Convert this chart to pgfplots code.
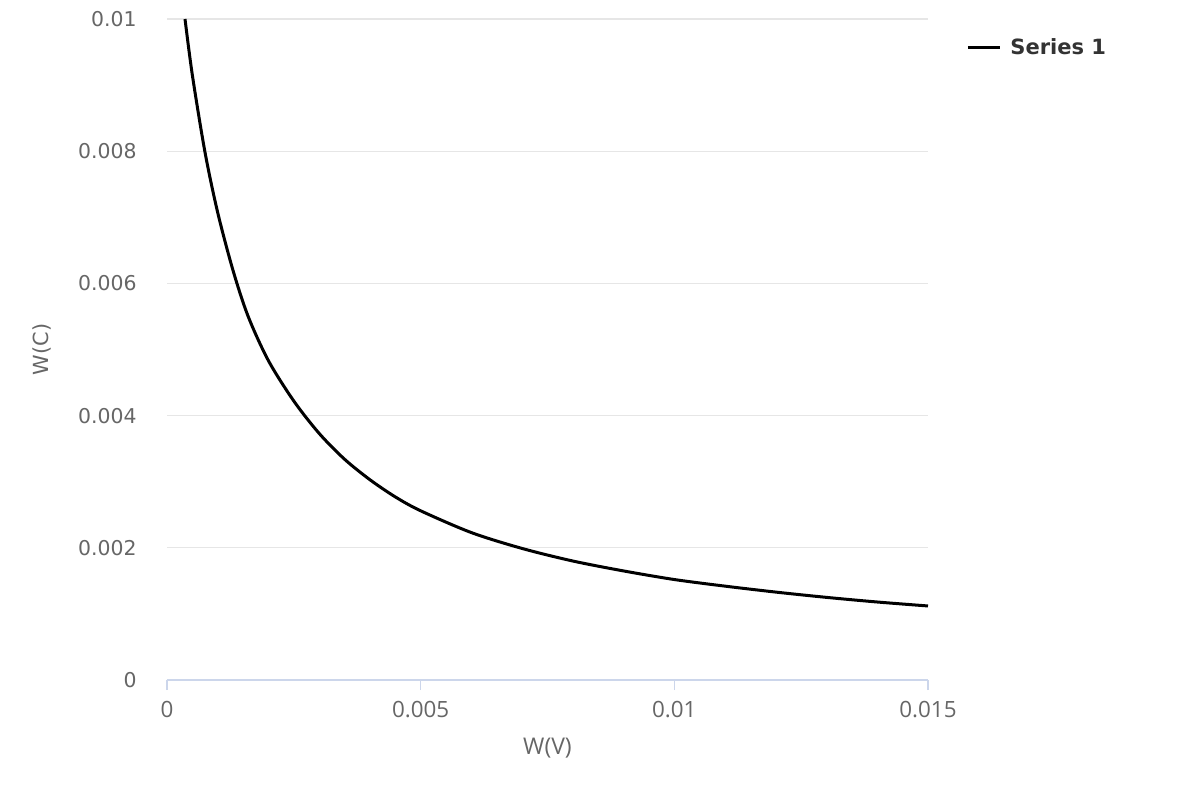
\documentclass[border=0pt]{standalone}
\usepackage{fontspec}
\setmainfont{DejaVu Sans}
\newfontfamily\xfont{Open Sans}
\usepackage{pgfplots}
\pgfplotsset{compat=1.18}
\definecolor{gridc}{HTML}{E6E6E6}
\definecolor{axisc}{HTML}{CCD6EB}
\definecolor{labc}{HTML}{666666}
\definecolor{legc}{HTML}{333333}
\begin{document}
\begin{tikzpicture}
\path[use as bounding box] (0,0) rectangle (600pt,400pt);
\begin{axis}[
  at={(83.5pt,60pt)}, anchor=south west,
  scale only axis, width=380.5pt, height=330.5pt,
  xmin=0, xmax=0.015, ymin=0, ymax=0.01,
  axis x line*=bottom, axis y line*=left,
  y axis line style={draw=none},
  x axis line style={axisc, line width=0.6pt, -},
  ytick style={draw=none},
  xtick style={axisc, line width=0.6pt},
  tick align=outside, major tick length=5pt,
  ymajorgrids, major grid style={gridc, line width=0.6pt},
  xtick={0,0.005,0.01,0.015},
  ytick={0,0.002,0.004,0.006,0.008,0.01},
  scaled ticks=false,
  /pgf/number format/fixed, /pgf/number format/precision=3,
  /pgf/number format/assume math mode=true,
  xticklabel style={font=\xfont\fontsize{11.2}{13}\selectfont, text=labc, inner sep=0pt, anchor=north, yshift=-5.25pt},
  yticklabel style={font=\fontsize{10.2}{12}\selectfont, text=labc, inner sep=0pt, anchor=east, xshift=-10pt},
  xlabel={W(V)},
  xlabel style={font=\xfont\fontsize{11.5}{13}\selectfont, text=labc, inner sep=0pt, at={(axis description cs:0.5,0)}, anchor=north, yshift=-29pt},
  ylabel={W(C)},
  ylabel style={font=\fontsize{10.4}{12}\selectfont, text=labc, inner sep=0pt, at={(axis description cs:-0.1643,0.5)}, anchor=center},
  legend image code/.code={\draw[#1, line width=1.5pt] (0pt,0pt) -- (16pt,0pt);},
  legend style={at={(1,1)}, anchor=west, xshift=19pt, yshift=-14.5pt, draw=none, fill=none, inner sep=0pt,
    font=\bfseries\fontsize{10.5}{12}\selectfont, text=legc,
    nodes={inner sep=0pt}, /tikz/every odd column/.append style={column sep=4.5pt}},
]
\addplot[black, line width=1.5pt, line join=round, smooth, tension=0.5] table {
x y
0.000355 0.01000
0.0005 0.00915
0.00075 0.00798
0.001 0.00707
0.0013 0.00620
0.0016 0.00550
0.002 0.00483
0.0025 0.00422
0.003 0.00373
0.0035 0.00334
0.004 0.00303
0.0045 0.00277
0.005 0.00256
0.006 0.00223
0.007 0.00199
0.008 0.00180
0.009 0.00165
0.010 0.00152
0.011 0.00142
0.012 0.00133
0.013 0.00125
0.014 0.00118
0.015 0.00112
};
\addlegendentry{Series 1}
\end{axis}
\end{tikzpicture}
\end{document}
